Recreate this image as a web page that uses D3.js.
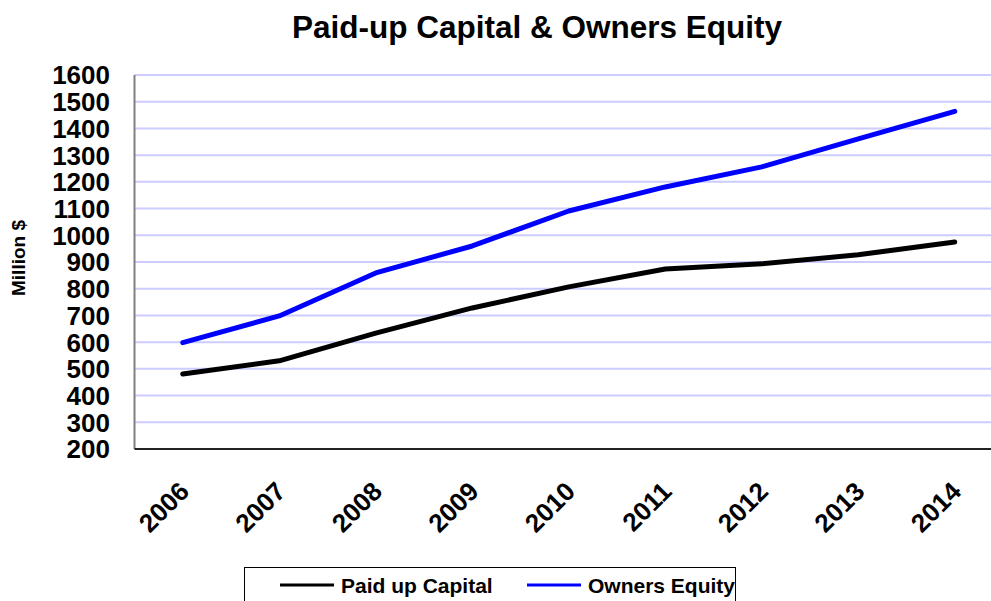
<!DOCTYPE html>
<html>
<head>
<meta charset="utf-8">
<script src="https://cdn.jsdelivr.net/npm/d3@7"></script>
<style>
body { margin: 0; background: #fff; }
text { font-family: "Liberation Sans", Arial, sans-serif; font-weight: bold; }
</style>
</head>
<body>
<svg width="991" height="601"></svg>
<script>
var years = ["2006", "2007", "2008", "2009", "2010", "2011", "2012", "2013", "2014"];
var paidUp = [481, 530, 634, 728, 807, 874, 893, 927, 975];
var equity = [598, 698, 859, 960, 1091, 1181, 1256, 1361, 1464];
var yTicks = [200, 300, 400, 500, 600, 700, 800, 900, 1000, 1100, 1200, 1300, 1400, 1500, 1600];

var svg = d3.select("svg");

var plotLeft = 134.5, plotRight = 1003, plotTop = 75, plotBottom = 449;

var x = d3.scalePoint()
    .domain(years)
    .range([plotLeft, plotRight])
    .padding(0.5);

var y = d3.scaleLinear()
    .domain([200, 1600])
    .range([plotBottom, plotTop]);

// gridlines
svg.append("g")
    .selectAll("line")
    .data(yTicks.slice(1))
    .enter()
    .append("line")
    .attr("x1", plotLeft).attr("x2", plotRight)
    .attr("y1", function(d){ return y(d); })
    .attr("y2", function(d){ return y(d); })
    .attr("stroke", "#ccccff")
    .attr("stroke-width", 2);

// y axis
svg.append("line")
    .attr("x1", plotLeft).attr("x2", plotLeft)
    .attr("y1", plotTop).attr("y2", plotBottom)
    .attr("stroke", "#808080").attr("stroke-width", 2);

svg.append("g")
    .selectAll("text")
    .data(yTicks)
    .enter()
    .append("text")
    .attr("x", 110)
    .attr("y", function(d){ return y(d); })
    .attr("dy", "0.36em")
    .attr("text-anchor", "end")
    .style("font-size", "26px")
    .text(function(d){ return d; });

// x axis
svg.append("line")
    .attr("x1", plotLeft).attr("x2", plotRight)
    .attr("y1", plotBottom).attr("y2", plotBottom)
    .attr("stroke", "#222").attr("stroke-width", 2);

svg.append("g")
    .selectAll("text")
    .data(years)
    .enter()
    .append("text")
    .attr("transform", function(d){ return "translate(" + (x(d) + 8) + ",493) rotate(-45)"; })
    .attr("text-anchor", "end")
    .style("font-size", "26px")
    .text(function(d){ return d; });

// lines
var line = d3.line()
    .x(function(d, i){ return x(years[i]); })
    .y(function(d){ return y(d); });

svg.append("path")
    .attr("d", line(paidUp))
    .attr("fill", "none")
    .attr("stroke", "#000")
    .attr("stroke-width", 5)
    .attr("stroke-linecap", "round")
    .attr("stroke-linejoin", "round");

svg.append("path")
    .attr("d", line(equity))
    .attr("fill", "none")
    .attr("stroke", "#0000ff")
    .attr("stroke-width", 5)
    .attr("stroke-linecap", "round")
    .attr("stroke-linejoin", "round");

// title
svg.append("text")
    .attr("x", 537).attr("y", 38)
    .attr("text-anchor", "middle")
    .style("font-size", "31.5px")
    .text("Paid-up Capital & Owners Equity");

svg.append("text")
    .attr("transform", "translate(25,258) rotate(-90)")
    .attr("text-anchor", "middle")
    .style("font-size", "19px")
    .text("Million $");

// legend
var legend = svg.append("g");
legend.append("rect")
    .attr("x", 244.5).attr("y", 567.5)
    .attr("width", 491).attr("height", 50)
    .attr("fill", "#fff")
    .attr("stroke", "#000").attr("stroke-width", 1);

var legendItems = [
    {name: "Paid up Capital", color: "#000", x: 280},
    {name: "Owners Equity", color: "#0000ff", x: 527}
];
legendItems.forEach(function(d){
    legend.append("line")
        .attr("x1", d.x).attr("x2", d.x + 54)
        .attr("y1", 585).attr("y2", 585)
        .attr("stroke", d.color).attr("stroke-width", 3);
    legend.append("text")
        .attr("x", d.x + 61).attr("y", 593)
        .style("font-size", "21px")
        .text(d.name);
});
</script>
</body>
</html>
